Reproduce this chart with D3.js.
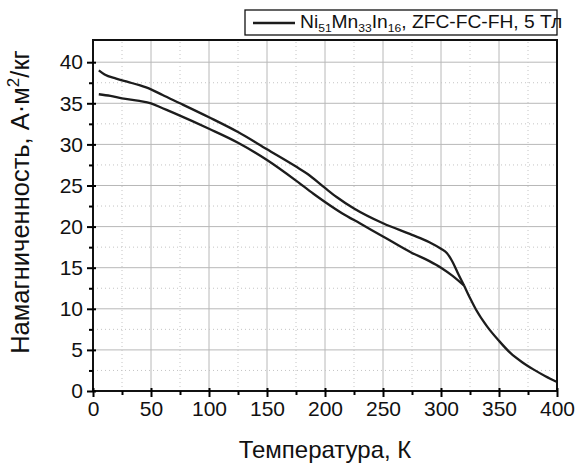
<!DOCTYPE html>
<html>
<head>
<meta charset="utf-8">
<script src="https://cdn.jsdelivr.net/npm/d3@7"></script>
<style>
  body { margin: 0; background: #fff; }
  svg { font-family: "Liberation Sans", Arial, sans-serif; }
</style>
</head>
<body>
<svg id="chart" width="577" height="467"></svg>
<script>
// temperature, K / magnetization, A·m2/kg
const branchA = [
  [5, 39.0], [10, 38.5], [20, 38.0], [30, 37.6], [40, 37.2], [50, 36.7],
  [60, 36.0], [75, 35.0], [100, 33.3], [125, 31.5], [150, 29.4], [175, 27.3],
  [185, 26.4], [200, 24.7], [210, 23.6], [225, 22.2], [250, 20.4], [275, 19.0],
  [290, 18.1], [300, 17.3], [305, 16.8], [310, 15.7], [315, 14.2], [320, 12.8]
];
const branchB = [
  [5, 36.1], [15, 35.9], [25, 35.6], [40, 35.3], [50, 35.0], [60, 34.4],
  [70, 33.8], [100, 31.9], [125, 30.2], [150, 28.1], [175, 25.6], [190, 24.0],
  [200, 23.0], [215, 21.6], [230, 20.4], [250, 18.8], [275, 16.8], [290, 15.8],
  [300, 15.0], [310, 14.0], [320, 12.8]
];
const tail = [
  [320, 12.8], [325, 11.3], [330, 9.95], [340, 7.8], [350, 6.1], [360, 4.6],
  [370, 3.5], [380, 2.6], [390, 1.8], [400, 1.1]
];
const xTicks = [0, 50, 100, 150, 200, 250, 300, 350, 400];
const yTicks = [0, 5, 10, 15, 20, 25, 30, 35, 40];

const margin = { top: 40, right: 20, bottom: 76, left: 93 };
const width = 577, height = 467;

const x = d3.scaleLinear().domain([0, 400]).range([margin.left, width - margin.right]);
const y = d3.scaleLinear().domain([0, 42.7]).range([height - margin.bottom, margin.top]);

const svg = d3.select("#chart");

// grid
const xMinor = d3.range(25, 400, 50);
const yMinor = d3.range(2.5, 42.5, 5);
svg.append("g").selectAll("line").data(xTicks.slice(1, -1)).join("line")
  .attr("x1", d => x(d)).attr("x2", d => x(d))
  .attr("y1", y(0)).attr("y2", margin.top)
  .attr("stroke", "#b8b8b8").attr("stroke-width", 1);
svg.append("g").selectAll("line").data(yTicks.slice(1)).join("line")
  .attr("x1", x(0)).attr("x2", x(400))
  .attr("y1", d => y(d)).attr("y2", d => y(d))
  .attr("stroke", "#b8b8b8").attr("stroke-width", 1);
svg.append("g").selectAll("line").data(xMinor).join("line")
  .attr("x1", d => x(d)).attr("x2", d => x(d))
  .attr("y1", y(0)).attr("y2", margin.top)
  .attr("stroke", "#c4c4c4").attr("stroke-dasharray", "1,3");
svg.append("g").selectAll("line").data(yMinor).join("line")
  .attr("x1", x(0)).attr("x2", x(400))
  .attr("y1", d => y(d)).attr("y2", d => y(d))
  .attr("stroke", "#c4c4c4").attr("stroke-dasharray", "1,3");

// curves
const line = d3.line().x(d => x(d[0])).y(d => y(d[1])).curve(d3.curveMonotoneX);
[branchA, branchB, tail].forEach(data => {
  svg.append("path").datum(data)
    .attr("d", line)
    .attr("fill", "none")
    .attr("stroke", "#1c1c1c")
    .attr("stroke-width", 2.3)
    .attr("stroke-linejoin", "round");
});

// frame
svg.append("rect")
  .attr("x", x(0)).attr("y", margin.top)
  .attr("width", x(400) - x(0)).attr("height", y(0) - margin.top)
  .attr("fill", "none").attr("stroke", "#111").attr("stroke-width", 2);

// axes
svg.append("g")
  .attr("transform", `translate(0,${y(0)})`)
  .call(d3.axisBottom(x).tickValues(xTicks).tickSize(6).tickPadding(4))
  .call(g => g.select(".domain").remove())
  .call(g => g.selectAll(".tick line").attr("y1", -3).attr("stroke-width", 2))
  .call(g => g.selectAll("text").attr("font-size", 21).attr("fill", "#111"));
svg.append("g")
  .attr("transform", `translate(0,${y(0)})`)
  .call(d3.axisBottom(x).tickValues(xMinor).tickSize(4).tickFormat(""))
  .call(g => g.select(".domain").remove())
  .call(g => g.selectAll(".tick line").attr("stroke-width", 2));

svg.append("g")
  .attr("transform", `translate(${x(0)},0)`)
  .call(d3.axisLeft(y).tickValues(yTicks).tickSize(6).tickPadding(4))
  .call(g => g.select(".domain").remove())
  .call(g => g.selectAll(".tick line").attr("x1", 3).attr("stroke-width", 2))
  .call(g => g.selectAll("text").attr("font-size", 21).attr("fill", "#111"));
svg.append("g")
  .attr("transform", `translate(${x(0)},0)`)
  .call(d3.axisLeft(y).tickValues(yMinor).tickSize(4).tickFormat(""))
  .call(g => g.select(".domain").remove())
  .call(g => g.selectAll(".tick line").attr("stroke-width", 2));

// axis titles
svg.append("text")
  .attr("x", (x(0) + x(400)) / 2).attr("y", 458)
  .attr("text-anchor", "middle").attr("font-size", 24).attr("fill", "#111")
  .text("Температура, К");

svg.append("text")
  .attr("transform", `translate(29,202) rotate(-90)`)
  .attr("text-anchor", "middle").attr("font-size", 25.5).attr("fill", "#111")
  .html("Намагниченность, А·м<tspan dy='-10' font-size='17'>2</tspan><tspan dy='10'>/кг</tspan>");

// legend
const lg = svg.append("g");
lg.append("rect")
  .attr("x", 245).attr("y", 10).attr("width", x(400) - 245).attr("height", 25)
  .attr("fill", "#fff").attr("stroke", "#111").attr("stroke-width", 1.3);
lg.append("line")
  .attr("x1", 253).attr("x2", 295).attr("y1", 23).attr("y2", 23)
  .attr("stroke", "#1c1c1c").attr("stroke-width", 2.3);
lg.append("text")
  .attr("transform", "translate(300,28) scale(1.1,1)")
  .attr("font-size", 17.5).attr("fill", "#111")
  .html("Ni<tspan dy='4' font-size='11'>51</tspan><tspan dy='-4'>Mn</tspan>" +
        "<tspan dy='4' font-size='11'>33</tspan><tspan dy='-4'>In</tspan>" +
        "<tspan dy='4' font-size='11'>16</tspan><tspan dy='-4'>, ZFC-FC-FH, 5 Тл</tspan>");
</script>
</body>
</html>
